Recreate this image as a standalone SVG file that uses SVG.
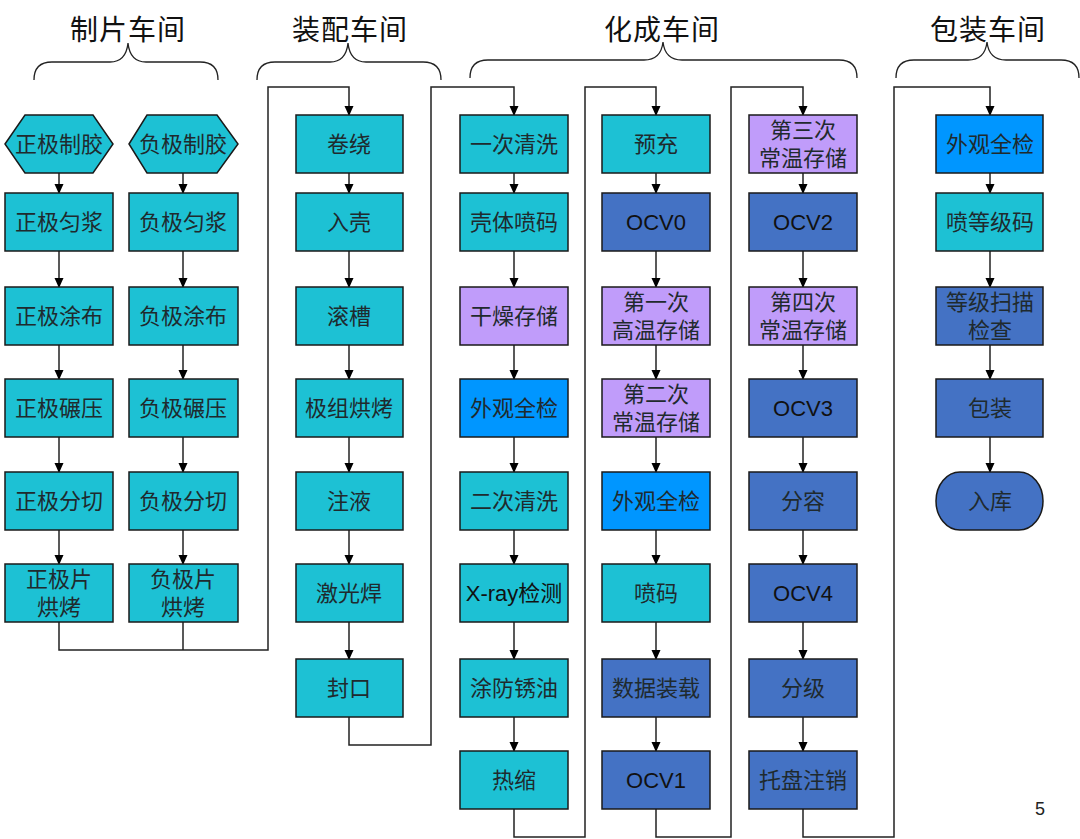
<svg xmlns="http://www.w3.org/2000/svg" width="1080" height="839" viewBox="0 0 1080 839">
<defs>
<marker id="arr" markerWidth="10" markerHeight="10" refX="9" refY="5" orient="auto" markerUnits="userSpaceOnUse">
<path d="M0,0.5 L10,5 L0,9.5 Z" fill="#000"/>
</marker>
<style>
.c{fill:#1DC1D4;stroke:#1a1a1a;stroke-width:1.5}
.p{fill:#C09CFA;stroke:#1a1a1a;stroke-width:1.5}
.b{fill:#0096FF;stroke:#1a1a1a;stroke-width:1.5}
.d{fill:#4472C4;stroke:#1a1a1a;stroke-width:1.5}
.t{font-family:"Liberation Serif","Noto Sans CJK SC",serif;font-size:22px;fill:#1f2a2e;text-anchor:middle;dominant-baseline:central}
.o{font-family:"Liberation Sans","Noto Sans CJK SC",sans-serif;font-size:22px;fill:#111;text-anchor:middle;dominant-baseline:central}
.h{font-family:"Liberation Serif","Noto Sans CJK SC",serif;font-size:28px;fill:#111;text-anchor:middle;letter-spacing:1px}
.br{fill:none;stroke:#222;stroke-width:1.3}
.ln{fill:none;stroke:#222;stroke-width:1.5}
.a{fill:none;stroke:#222;stroke-width:1.5;marker-end:url(#arr)}
</style>
</defs>
<rect width="1080" height="839" fill="#fff"/>

<g id="headers">
<text class="h" x="128" y="40">制片车间</text>
<text class="h" x="350" y="40">装配车间</text>
<text class="h" x="662" y="40">化成车间</text>
<text class="h" x="988" y="40">包装车间</text>
<path class="br" d="M34,80 Q34,62 52,62 L110,62 Q126,62 128,43 Q130,62 146,62 L200,62 Q218,62 218,80"/>
<path class="br" d="M257,80 Q257,62 275,62 L330,62 Q346,62 348,43 Q350,62 366,62 L423,62 Q441,62 441,80"/>
<path class="br" d="M470,78 Q470,60 488,60 L644,60 Q661,60 663,42 Q665,60 682,60 L839,60 Q857,60 857,78"/>
<path class="br" d="M896,78 Q896,60 914,60 L968,60 Q985,60 987,42 Q989,60 1006,60 L1061,60 Q1079,60 1079,78"/>
</g>

<g id="connectors">
<path class="a" d="M59,173 V193"/><path class="a" d="M59,251 V287"/><path class="a" d="M59,345 V379"/><path class="a" d="M59,437 V472"/><path class="a" d="M59,530 V564"/>
<path class="a" d="M183,173 V193"/><path class="a" d="M183,251 V287"/><path class="a" d="M183,345 V379"/><path class="a" d="M183,437 V472"/><path class="a" d="M183,530 V564"/>
<path class="ln" d="M183,622 V650"/>
<path class="a" d="M59,622 V650 H268 V87 H349 V115"/>
<path class="a" d="M349,173 V193"/><path class="a" d="M349,251 V287"/><path class="a" d="M349,345 V379"/><path class="a" d="M349,437 V472"/><path class="a" d="M349,530 V564"/><path class="a" d="M349,622 V659"/>
<path class="a" d="M349,717 V745 H431 V87 H514 V115"/>
<path class="a" d="M514,173 V193"/><path class="a" d="M514,251 V287"/><path class="a" d="M514,345 V379"/><path class="a" d="M514,437 V472"/><path class="a" d="M514,530 V564"/><path class="a" d="M514,622 V659"/><path class="a" d="M514,717 V751"/>
<path class="a" d="M514,809 V837 H585 V87 H656 V115"/>
<path class="a" d="M656,173 V193"/><path class="a" d="M656,251 V287"/><path class="a" d="M656,345 V379"/><path class="a" d="M656,437 V472"/><path class="a" d="M656,530 V564"/><path class="a" d="M656,622 V659"/><path class="a" d="M656,717 V751"/>
<path class="a" d="M656,809 V837 H731 V87 H803 V115"/>
<path class="a" d="M803,173 V193"/><path class="a" d="M803,251 V287"/><path class="a" d="M803,345 V379"/><path class="a" d="M803,437 V472"/><path class="a" d="M803,530 V564"/><path class="a" d="M803,622 V659"/><path class="a" d="M803,717 V751"/>
<path class="a" d="M803,809 V837 H894 V87 H990 V115"/>
<path class="a" d="M990,173 V193"/><path class="a" d="M990,251 V287"/><path class="a" d="M990,345 V379"/><path class="a" d="M990,437 V472"/>
</g>

<g id="n_zjzj"><polygon class="c" points="5,144 25,115 93,115 113,144 93,173 25,173"/><text class="t" x="59" y="144">正极制胶</text></g>
<g id="n_zjjj"><rect class="c" x="5" y="193" width="108" height="58"/><text class="t" x="59" y="222">正极匀浆</text></g>
<g id="n_zjtb"><rect class="c" x="5" y="287" width="108" height="58"/><text class="t" x="59" y="316">正极涂布</text></g>
<g id="n_zjny"><rect class="c" x="5" y="379" width="108" height="58"/><text class="t" x="59" y="408">正极碾压</text></g>
<g id="n_zjfq"><rect class="c" x="5" y="472" width="108" height="58"/><text class="t" x="59" y="501">正极分切</text></g>
<g id="n_zjhk"><rect class="c" x="5" y="564" width="108" height="58"/><text class="t" x="59" y="579">正极片</text><text class="t" x="59" y="607">烘烤</text></g>

<g id="n_fjzj"><polygon class="c" points="129,144 147,115 217,115 238,144 217,173 147,173"/><text class="t" x="183" y="144">负极制胶</text></g>
<g id="n_fjjj"><rect class="c" x="129" y="193" width="109" height="58"/><text class="t" x="183" y="222">负极匀浆</text></g>
<g id="n_fjtb"><rect class="c" x="129" y="287" width="109" height="58"/><text class="t" x="183" y="316">负极涂布</text></g>
<g id="n_fjny"><rect class="c" x="129" y="379" width="109" height="58"/><text class="t" x="183" y="408">负极碾压</text></g>
<g id="n_fjfq"><rect class="c" x="129" y="472" width="109" height="58"/><text class="t" x="183" y="501">负极分切</text></g>
<g id="n_fjhk"><rect class="c" x="129" y="564" width="109" height="58"/><text class="t" x="183" y="579">负极片</text><text class="t" x="183" y="607">烘烤</text></g>

<g id="n_jr"><rect class="c" x="296" y="115" width="107" height="58"/><text class="t" x="349" y="144">卷绕</text></g>
<g id="n_rk"><rect class="c" x="296" y="193" width="107" height="58"/><text class="t" x="349" y="222">入壳</text></g>
<g id="n_gc"><rect class="c" x="296" y="287" width="107" height="58"/><text class="t" x="349" y="316">滚槽</text></g>
<g id="n_jzhk"><rect class="c" x="296" y="379" width="107" height="58"/><text class="t" x="349" y="408">极组烘烤</text></g>
<g id="n_zy"><rect class="c" x="296" y="472" width="107" height="58"/><text class="t" x="349" y="501">注液</text></g>
<g id="n_jgh"><rect class="c" x="296" y="564" width="107" height="58"/><text class="t" x="349" y="593">激光焊</text></g>
<g id="n_fk"><rect class="c" x="296" y="659" width="107" height="58"/><text class="t" x="349" y="688">封口</text></g>

<g id="n_ycqx"><rect class="c" x="460" y="115" width="108" height="58"/><text class="t" x="514" y="144">一次清洗</text></g>
<g id="n_ktpm"><rect class="c" x="460" y="193" width="108" height="58"/><text class="t" x="514" y="222">壳体喷码</text></g>
<g id="n_gzcc"><rect class="p" x="460" y="287" width="108" height="58"/><text class="t" x="514" y="316">干燥存储</text></g>
<g id="n_wgqj1"><rect class="b" x="460" y="379" width="108" height="58"/><text class="t" x="514" y="408">外观全检</text></g>
<g id="n_ecqx"><rect class="c" x="460" y="472" width="108" height="58"/><text class="t" x="514" y="501">二次清洗</text></g>
<g id="n_xray"><rect class="c" x="460" y="564" width="108" height="58"/><text class="o" x="514" y="593">X-ray<tspan style="font-family:'Liberation Serif','Noto Sans CJK SC',serif;font-size:22px">检测</tspan></text></g>
<g id="n_tfxy"><rect class="c" x="460" y="659" width="108" height="58"/><text class="t" x="514" y="688">涂防锈油</text></g>
<g id="n_rs"><rect class="c" x="460" y="751" width="108" height="58"/><text class="t" x="514" y="780">热缩</text></g>

<g id="n_yc"><rect class="c" x="602" y="115" width="108" height="58"/><text class="t" x="656" y="144">预充</text></g>
<g id="n_ocv0"><rect class="d" x="602" y="193" width="108" height="58"/><text class="o" x="656" y="222">OCV0</text></g>
<g id="n_gwcc1"><rect class="p" x="602" y="287" width="108" height="58"/><text class="t" x="656" y="302">第一次</text><text class="t" x="656" y="330">高温存储</text></g>
<g id="n_cwcc2"><rect class="p" x="602" y="379" width="108" height="58"/><text class="t" x="656" y="394">第二次</text><text class="t" x="656" y="422">常温存储</text></g>
<g id="n_wgqj2"><rect class="b" x="602" y="472" width="108" height="58"/><text class="t" x="656" y="501">外观全检</text></g>
<g id="n_pm"><rect class="c" x="602" y="564" width="108" height="58"/><text class="t" x="656" y="593">喷码</text></g>
<g id="n_sjzz"><rect class="d" x="602" y="659" width="108" height="58"/><text class="t" x="656" y="688">数据装载</text></g>
<g id="n_ocv1"><rect class="d" x="602" y="751" width="108" height="58"/><text class="o" x="656" y="780">OCV1</text></g>

<g id="n_cwcc3"><rect class="p" x="749" y="115" width="108" height="58"/><text class="t" x="803" y="130">第三次</text><text class="t" x="803" y="158">常温存储</text></g>
<g id="n_ocv2"><rect class="d" x="749" y="193" width="108" height="58"/><text class="o" x="803" y="222">OCV2</text></g>
<g id="n_cwcc4"><rect class="p" x="749" y="287" width="108" height="58"/><text class="t" x="803" y="302">第四次</text><text class="t" x="803" y="330">常温存储</text></g>
<g id="n_ocv3"><rect class="d" x="749" y="379" width="108" height="58"/><text class="o" x="803" y="408">OCV3</text></g>
<g id="n_fr"><rect class="d" x="749" y="472" width="108" height="58"/><text class="t" x="803" y="501">分容</text></g>
<g id="n_ocv4"><rect class="d" x="749" y="564" width="108" height="58"/><text class="o" x="803" y="593">OCV4</text></g>
<g id="n_fj"><rect class="d" x="749" y="659" width="108" height="58"/><text class="t" x="803" y="688">分级</text></g>
<g id="n_tpzx"><rect class="d" x="749" y="751" width="108" height="58"/><text class="t" x="803" y="780">托盘注销</text></g>

<g id="n_wgqj3"><rect class="b" x="936" y="115" width="107" height="58"/><text class="t" x="990" y="144">外观全检</text></g>
<g id="n_pdjm"><rect class="c" x="936" y="193" width="107" height="58"/><text class="t" x="990" y="222">喷等级码</text></g>
<g id="n_djsm"><rect class="d" x="936" y="287" width="107" height="58"/><text class="t" x="990" y="302">等级扫描</text><text class="t" x="990" y="330">检查</text></g>
<g id="n_bz"><rect class="d" x="936" y="379" width="107" height="58"/><text class="t" x="990" y="408">包装</text></g>
<g id="n_rku"><rect class="d" x="936" y="472" width="107" height="58" rx="24" ry="29"/><text class="t" x="990" y="501">入库</text></g>

<text x="1040" y="815" style="font-family:'Liberation Sans',sans-serif;font-size:18px;fill:#222;text-anchor:middle">5</text>
</svg>
